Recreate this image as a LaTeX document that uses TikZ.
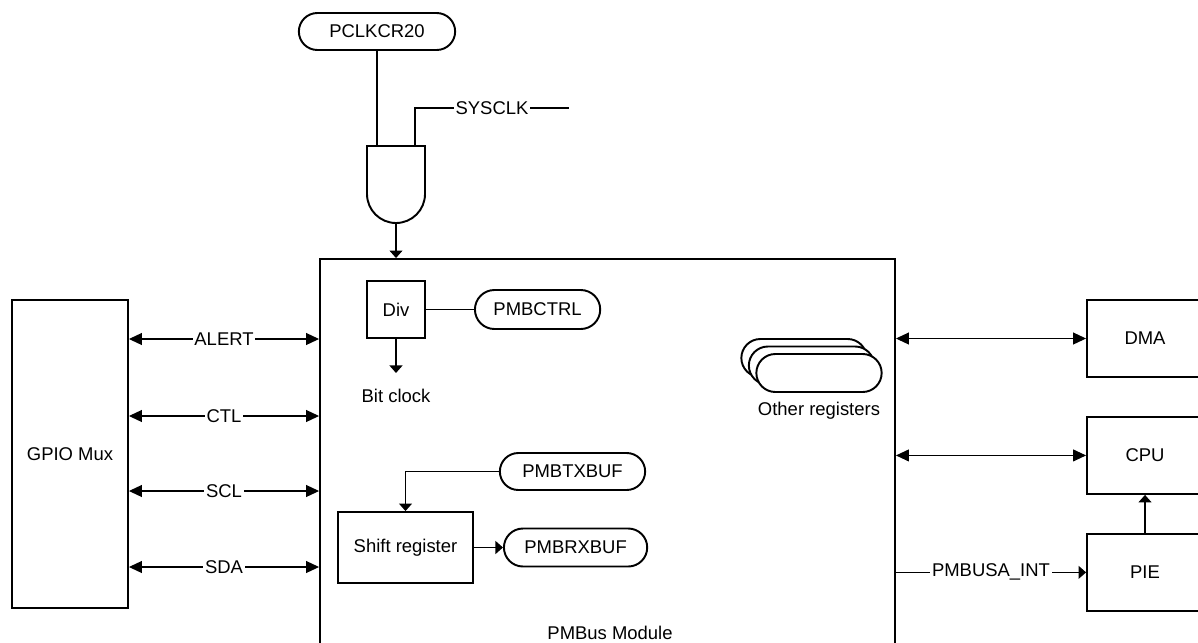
\documentclass[tikz,border=0pt]{standalone}
\usepackage{fontspec}
\setmainfont{Liberation Sans}
\usetikzlibrary{arrows.meta,positioning,shapes.misc}

\begin{document}
\begin{tikzpicture}[
  font=\fontsize{10.5}{12}\selectfont,
  blk/.style={rectangle,draw,line width=1.1pt,align=center},
  reg/.style={rounded rectangle,draw,line width=1.1pt,minimum height=0.76cm,minimum width=3.14cm},
  wire/.style={line width=1.1pt},
  arr/.style={-{Triangle[length=0.15cm,width=0.26cm]},line width=0.6pt},
  biarr/.style={{Triangle[length=0.26cm,width=0.24cm]}-{Triangle[length=0.26cm,width=0.24cm]},line width=0.6pt},
  lbl/.style={fill=white,inner sep=1pt},
  node distance=0.76cm
]
\clip (0,0) rectangle (23.96,-12.84);

\node[reg, minimum width=3.36cm, minimum height=0.74cm] (pclk) at (7.54,-0.63) {PCLKCR20};
\draw[wire] (7.34,-2.92) -- (8.50,-2.92) -- (8.50,-3.88) arc (0:-180:0.58) -- cycle;
\coordinate (gin1) at (7.54,-2.92);
\coordinate (gin2) at (8.30,-2.92);
\coordinate (gout) at (7.92,-4.46);
\coordinate (sysclk) at (11.38,-2.16);
\draw[wire] (pclk) -- (gin1);
\draw[wire] (gin2) |- node[lbl, pos=0.75] {SYSCLK} (sysclk);

\node[blk, minimum width=11.5cm, minimum height=8.82cm] (pmbus) at (12.15,-9.59) {};
\node (pmblabel) at (12.20,-12.66) {PMBus Module};
\draw[arr] (gout) -- (gout |- pmbus.north);

\node[blk, minimum width=1.16cm, minimum height=1.14cm] (div) at (7.92,-6.19) {Div};
\node[reg, minimum width=2.74cm, minimum height=0.78cm, right=0.96cm of div] (pmbctrl) {PMBCTRL};
\node[below=0.88cm of div] (bitclk) {Bit clock};
\draw[wire] (div) -- (pmbctrl);
\draw[arr, shorten >=0.2cm] (div) -- (bitclk);

\node[blk, minimum width=2.70cm, minimum height=1.42cm] (shift) at (8.11,-10.95) {Shift register};
\node[reg, minimum height=0.74cm] (pmbtx) at (11.45,-9.43) {PMBTXBUF};
\node[reg, minimum width=3.10cm, right=0.58cm of shift] (pmbrx) {PMBRXBUF};
\draw[arr] (pmbtx) -| (shift);
\draw[arr] (shift) -- (pmbrx);

\foreach \i in {2,1,0}
  \node[reg, fill=white, minimum width=2.74cm] (oreg\i) at ({16.38-0.15*\i},{-7.46+0.15*\i}) {};
\node[below=0.05cm of oreg0] (oregtxt) {Other registers};

\node[blk, minimum width=2.32cm, minimum height=6.16cm] (gpio) at (1.40,-9.08) {GPIO Mux};
\foreach \y/\sig in {-6.78/ALERT,-8.32/CTL,-9.82/SCL,-11.34/SDA}
  \draw[biarr] (gpio.east |- 0,\y) -- node[lbl] {\sig} (pmbus.west |- 0,\y);

\node[blk, minimum width=2.32cm, minimum height=1.54cm] (dma) at (22.90,-6.77) {DMA};
\node[blk, minimum width=2.32cm, minimum height=1.54cm, below=of dma] (cpu) {CPU};
\node[blk, minimum width=2.32cm, minimum height=1.54cm, below=of cpu] (pie) {PIE};
\draw[biarr] (pmbus.east |- dma) -- (dma);
\draw[biarr] (pmbus.east |- cpu) -- (cpu);
\draw[arr] (pmbus.east |- pie) -- node[lbl] {PMBUSA\_INT} (pie);
\draw[arr] (pie) -- (cpu);
\end{tikzpicture}
\end{document}
